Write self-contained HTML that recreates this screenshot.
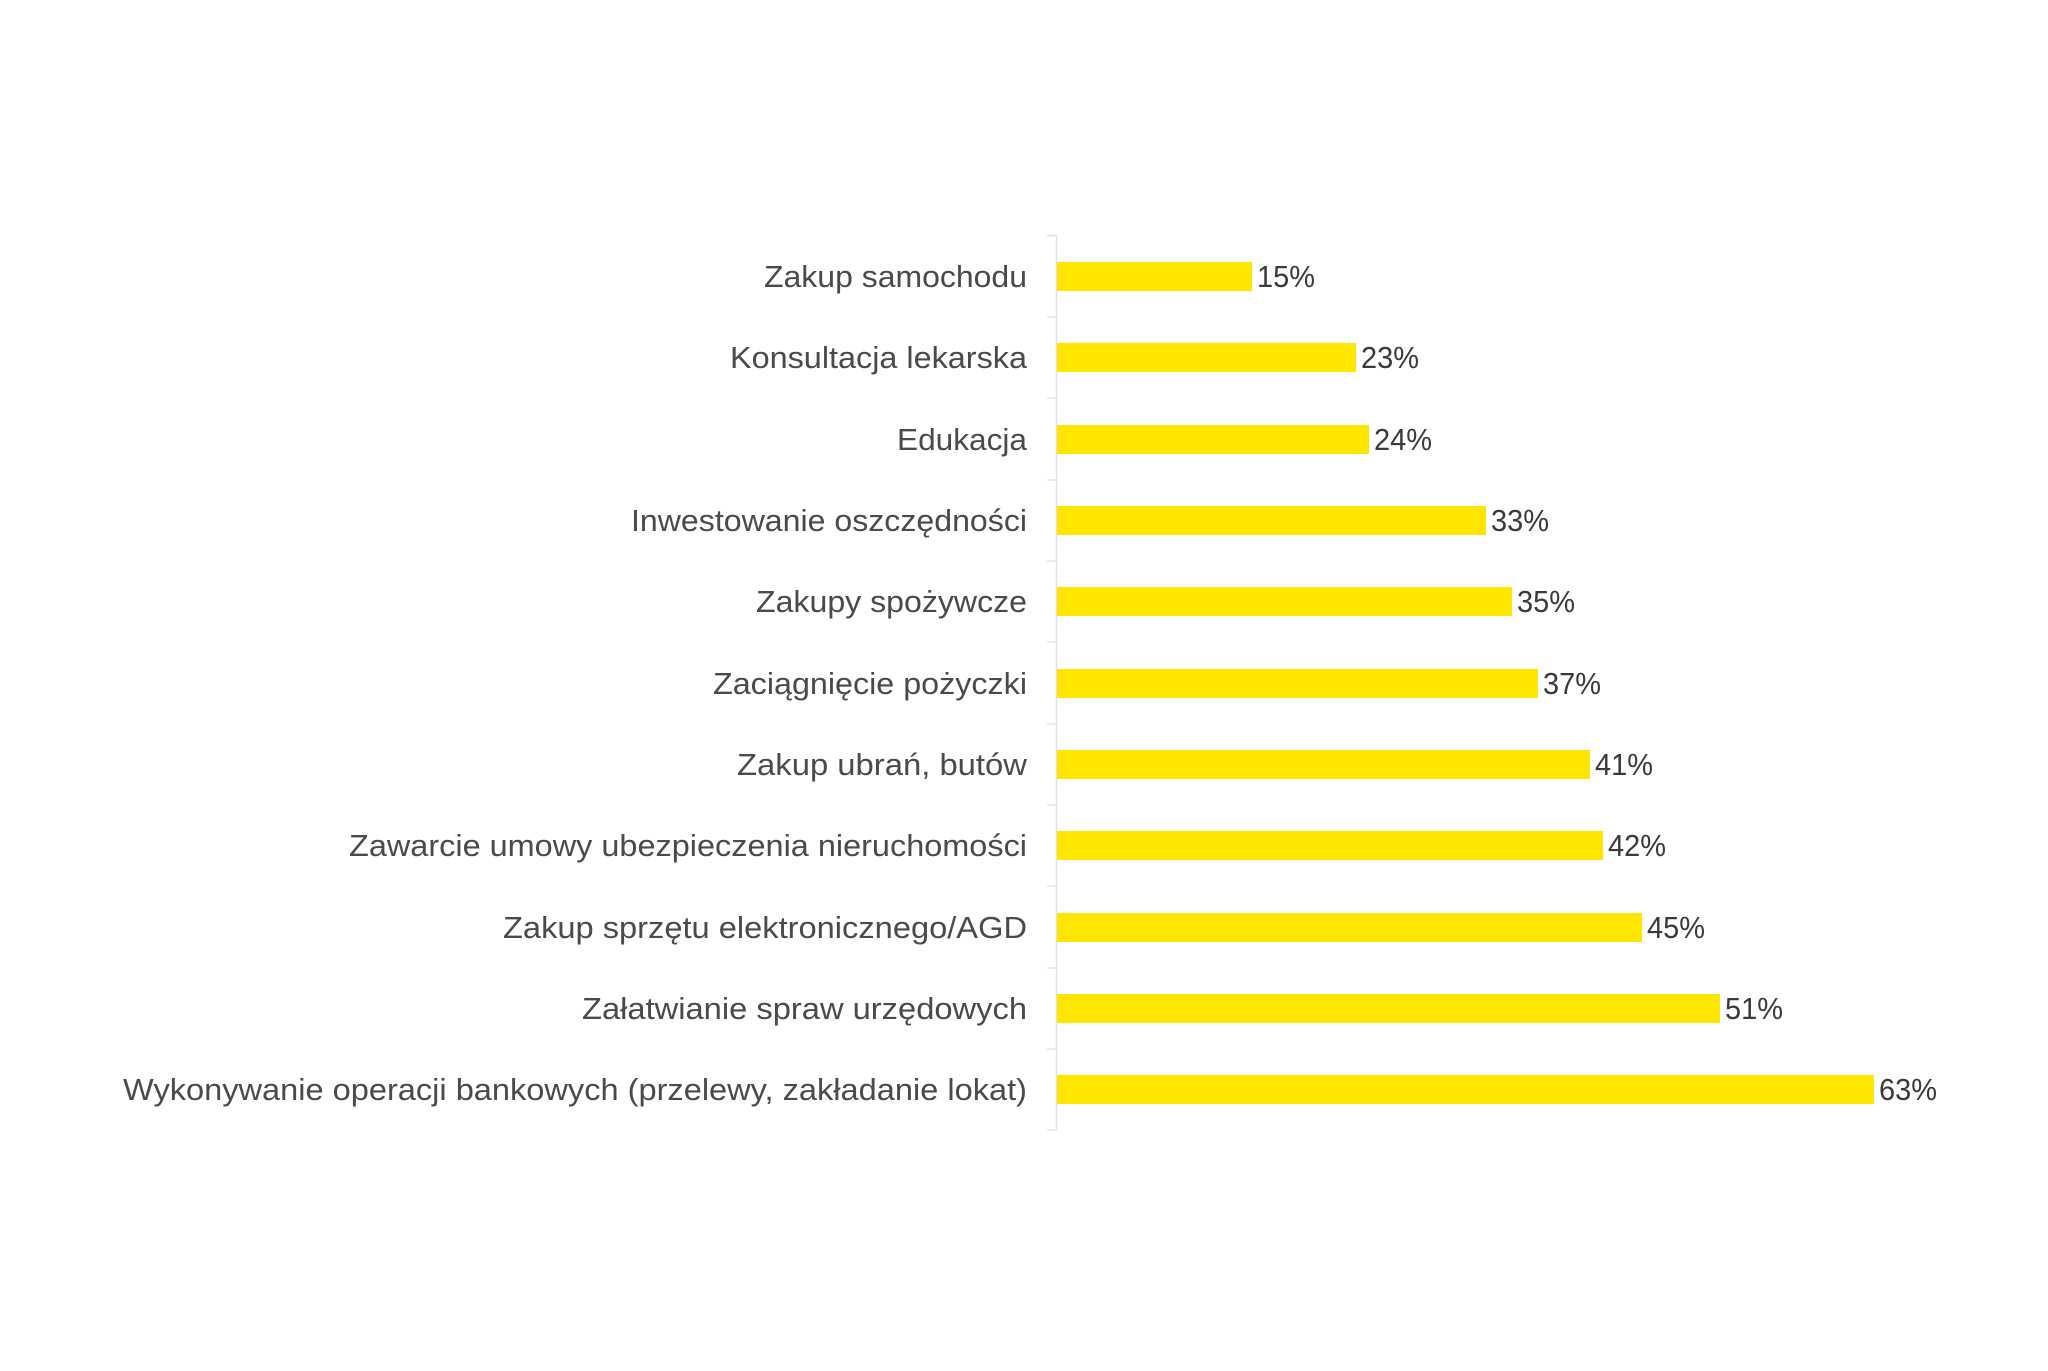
<!DOCTYPE html>
<html><head><meta charset="utf-8"><style>html,body{margin:0;padding:0;background:#fff}</style></head>
<body>
<svg width="2048" height="1366" xmlns="http://www.w3.org/2000/svg" font-family="Liberation Sans, sans-serif" font-size="31" fill="#4a4a4a">
<rect width="2048" height="1366" fill="#fff"/>
<line x1="1056.5" y1="235" x2="1056.5" y2="1130" stroke="#e2e2e2" stroke-width="1.5"/>
<g stroke="#e2e2e2" stroke-width="1.5">
<line x1="1047" y1="235.5" x2="1057" y2="235.5"/>
<line x1="1047" y1="317" x2="1057" y2="317"/>
<line x1="1047" y1="398" x2="1057" y2="398"/>
<line x1="1047" y1="480" x2="1057" y2="480"/>
<line x1="1047" y1="561" x2="1057" y2="561"/>
<line x1="1047" y1="642" x2="1057" y2="642"/>
<line x1="1047" y1="724" x2="1057" y2="724"/>
<line x1="1047" y1="805" x2="1057" y2="805"/>
<line x1="1047" y1="886" x2="1057" y2="886"/>
<line x1="1047" y1="968" x2="1057" y2="968"/>
<line x1="1047" y1="1049" x2="1057" y2="1049"/>
<line x1="1047" y1="1130" x2="1057" y2="1130"/>
</g>
<g fill="#ffe600">
<rect x="1057" y="262" width="195" height="29"/>
<rect x="1057" y="343" width="299" height="29"/>
<rect x="1057" y="425" width="312" height="29"/>
<rect x="1057" y="506" width="429" height="29"/>
<rect x="1057" y="587" width="455" height="29"/>
<rect x="1057" y="669" width="481" height="29"/>
<rect x="1057" y="750" width="533" height="29"/>
<rect x="1057" y="831" width="546" height="29"/>
<rect x="1057" y="913" width="585" height="29"/>
<rect x="1057" y="994" width="663" height="29"/>
<rect x="1057" y="1075" width="817" height="29"/>
</g>
<g text-anchor="end">
<text x="1027" y="287" textLength="263" lengthAdjust="spacingAndGlyphs">Zakup samochodu</text>
<text x="1027" y="368" textLength="297" lengthAdjust="spacingAndGlyphs">Konsultacja lekarska</text>
<text x="1027" y="450" textLength="130" lengthAdjust="spacingAndGlyphs">Edukacja</text>
<text x="1027" y="531" textLength="396" lengthAdjust="spacingAndGlyphs">Inwestowanie oszczędności</text>
<text x="1027" y="612" textLength="271" lengthAdjust="spacingAndGlyphs">Zakupy spożywcze</text>
<text x="1027" y="694" textLength="314" lengthAdjust="spacingAndGlyphs">Zaciągnięcie pożyczki</text>
<text x="1027" y="775" textLength="290" lengthAdjust="spacingAndGlyphs">Zakup ubrań, butów</text>
<text x="1027" y="856" textLength="678" lengthAdjust="spacingAndGlyphs">Zawarcie umowy ubezpieczenia nieruchomości</text>
<text x="1027" y="938" textLength="524" lengthAdjust="spacingAndGlyphs">Zakup sprzętu elektronicznego/AGD</text>
<text x="1027" y="1019" textLength="445" lengthAdjust="spacingAndGlyphs">Załatwianie spraw urzędowych</text>
<text x="1027" y="1100" textLength="904" lengthAdjust="spacingAndGlyphs">Wykonywanie operacji bankowych (przelewy, zakładanie lokat)</text>
</g>
<g fill="#3a3a3a">
<text x="1257" y="287" textLength="58" lengthAdjust="spacingAndGlyphs">15%</text>
<text x="1361" y="368" textLength="58" lengthAdjust="spacingAndGlyphs">23%</text>
<text x="1374" y="450" textLength="58" lengthAdjust="spacingAndGlyphs">24%</text>
<text x="1491" y="531" textLength="58" lengthAdjust="spacingAndGlyphs">33%</text>
<text x="1517" y="612" textLength="58" lengthAdjust="spacingAndGlyphs">35%</text>
<text x="1543" y="694" textLength="58" lengthAdjust="spacingAndGlyphs">37%</text>
<text x="1595" y="775" textLength="58" lengthAdjust="spacingAndGlyphs">41%</text>
<text x="1608" y="856" textLength="58" lengthAdjust="spacingAndGlyphs">42%</text>
<text x="1647" y="938" textLength="58" lengthAdjust="spacingAndGlyphs">45%</text>
<text x="1725" y="1019" textLength="58" lengthAdjust="spacingAndGlyphs">51%</text>
<text x="1879" y="1100" textLength="58" lengthAdjust="spacingAndGlyphs">63%</text>
</g>
</svg>
</body></html>
